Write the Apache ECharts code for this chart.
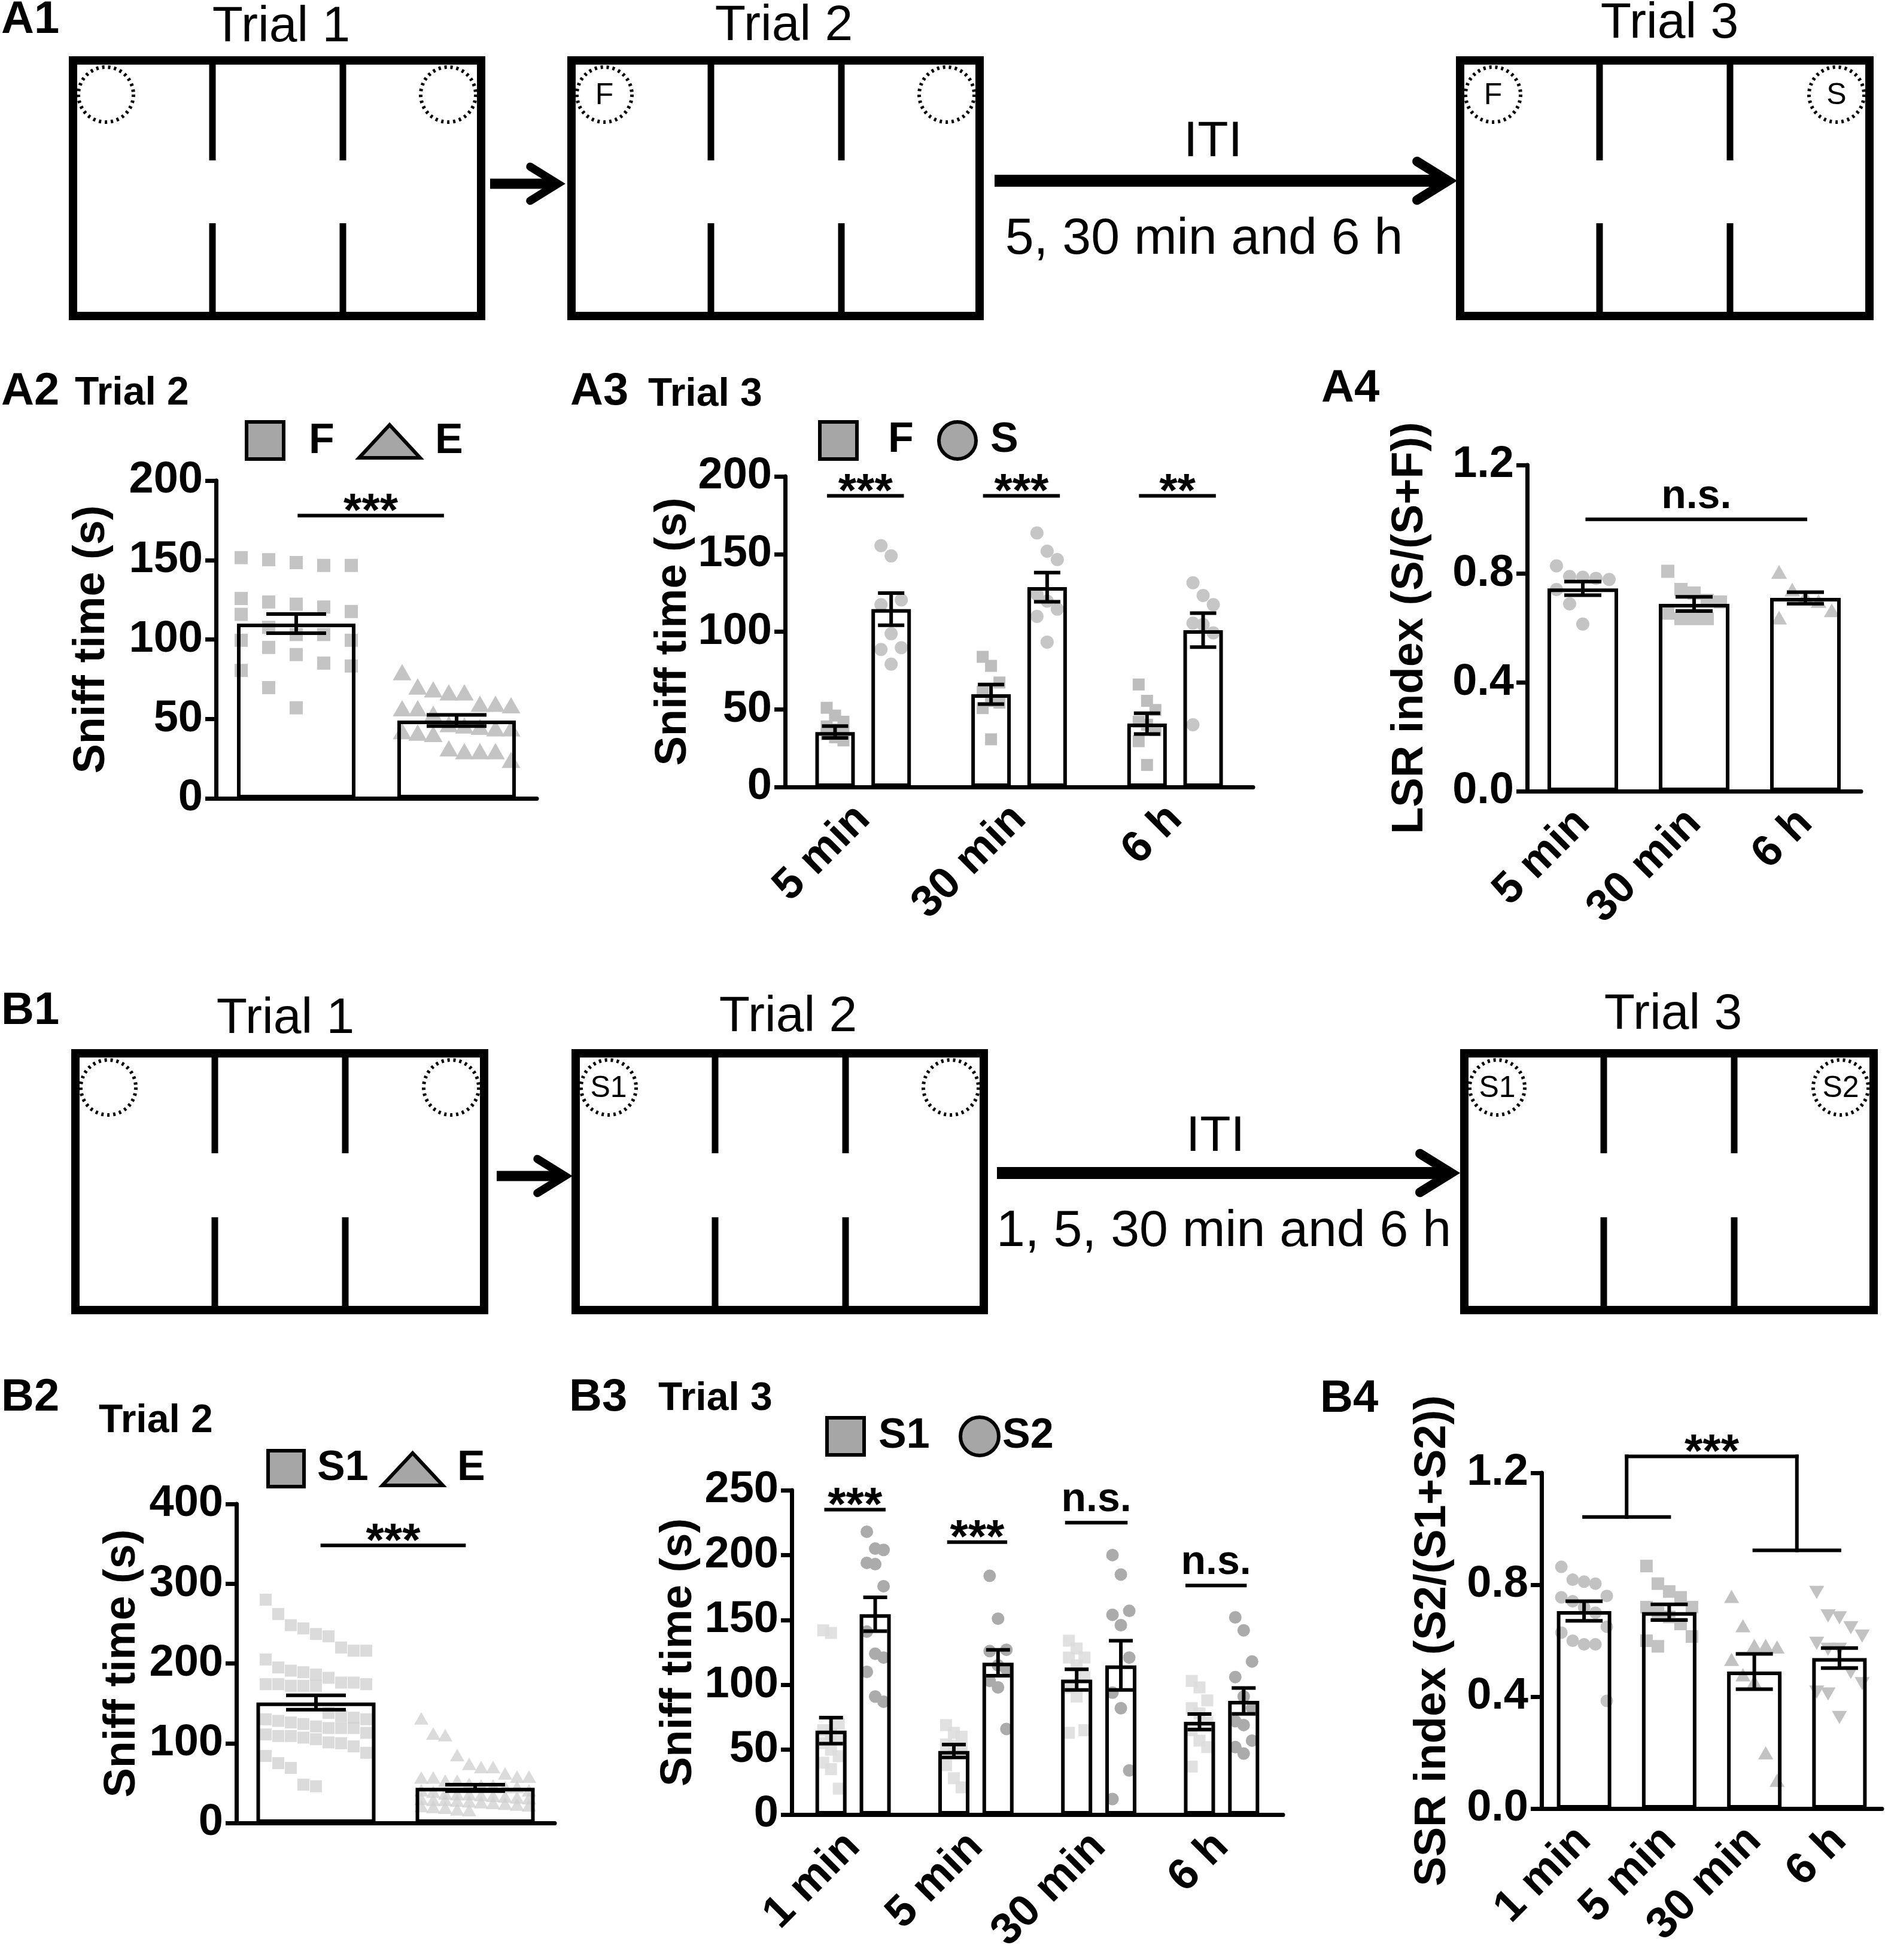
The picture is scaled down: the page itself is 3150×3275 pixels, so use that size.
<!DOCTYPE html>
<html>
<head>
<meta charset="utf-8" />
<title>Spatial recognition: Trial 2 / Trial 3</title>
<script src="https://cdn.jsdelivr.net/npm/echarts@6/dist/echarts.min.js"></script>
<style>
  html, body { margin: 0; padding: 0; background: #fff; }
  #main { width: 3150px; height: 3275px; }
</style>
</head>
<body>
<div id="main"></div>
<script>
// ---------------- data ----------------
var catTimeA = ['5 min', '30 min', '6 h'];
var catTimeB = ['1 min', '5 min', '30 min', '6 h'];

// A2 Trial 2 (F vs E)
var a2Cats = ['F', 'E'];
var a2Ticks = [0, 50, 100, 150, 200];
var a2Mean = [110, 49];
var a2Sem = [6, 3.5];
var a2F = [151.5, 150.2, 148.4, 146.6, 146.6, 125.8, 123.6, 122.2, 120.4, 117.6, 115.8, 107.6, 103.1, 103.1, 99.5, 99.5, 95, 90.5, 85.1, 83.3, 80.5, 69.7, 57];
var a2E = [78.7, 69.7, 67.9, 66, 66, 58.8, 58.8, 57.9, 56, 56, 52.5, 46, 45.2, 44.3, 43.4, 43.4, 41.6, 40.7, 39.8, 30.8, 29, 29, 29, 23.5];
var a2Sig = [[0.02, 0.91, 178, '***']];

// A3 Trial 3 (F vs S)
var a3Ticks = [0, 50, 100, 150, 200];
var a3FMean = [35.4, 59.7, 40.8];
var a3FSem = [3.8, 6.3, 6.7];
var a3SMean = [114.5, 128.7, 101.0];
var a3SSem = [10.4, 9.4, 10.9];
var a3F = [[51, 46, 42, 39, 37, 35, 34, 32, 30], [83.8, 78, 67.3, 61.4, 55.5, 54.3, 50.8, 30.7], [66, 55.5, 49.6, 42, 40.1, 36.6, 29.5, 14.2]];
var a3S = [[155.4, 148.8, 120.4, 117.4, 98.7, 89.7, 88.5, 79.1], [163.6, 151.8, 146.4, 124, 119.7, 114.5, 109.8, 93.3], [131.5, 123.3, 117.4, 105.5, 104.6, 99.2, 40.1]];
var a3Sig = [[-0.22, 0.25, 187.5, '***'], [0.78, 1.25, 187.5, '***'], [1.78, 2.25, 187.5, '**']];

// A4 LSR index
var a4Ticks = [0, 0.4, 0.8, 1.2];
var a4Mean = [0.746, 0.689, 0.711];
var a4Sem = [0.025, 0.026, 0.021];
var a4Pts = [[0.829, 0.79, 0.787, 0.783, 0.779, 0.742, 0.689, 0.615], [0.809, 0.742, 0.729, 0.702, 0.696, 0.655, 0.635, 0.635, 0.635], [0.803, 0.738, 0.712, 0.696, 0.662, 0.635]];
var a4Sig = [[0.04, 2.0, 1.0, 'n.s.']];

// B2 Trial 2 (S1 vs E)
var b2Cats = ['S1', 'E'];
var b2Ticks = [0, 100, 200, 300, 400];
var b2Mean = [151, 44];
var b2Sem = [9, 4];
var b2S1 = [280, 262, 248, 244, 237, 234, 220, 216, 216, 205, 195, 191, 189, 186, 182, 176, 176, 174, 174, 174, 172, 172, 172, 138, 134, 132, 130, 130, 128, 126, 124, 121, 119, 119, 119, 113, 111, 109, 109, 107, 105, 101, 100, 96, 88, 84, 75, 69, 48, 46];
var b2E = [130, 111, 109, 84, 73, 69, 69, 61, 57, 57, 56, 56, 52, 52, 48, 46, 46, 44, 44, 40, 40, 38, 36, 35, 35, 34, 33, 32, 31, 30, 29, 28, 28, 27, 26, 25, 24, 23, 22, 21, 20, 19, 18, 16, 15];
var b2Sig = [[0.04, 0.93, 348, '***']];

// B3 Trial 3 (S1 vs S2)
var b3Ticks = [0, 50, 100, 150, 200, 250];
var b3S1Mean = [64.7, 49, 104, 71.5];
var b3S1Sem = [10, 5, 8, 6];
var b3S2Mean = [154.4, 117, 115, 87.6];
var b3S2Sem = [13, 10, 19, 10];
var b3S1 = [[142, 140, 70, 65, 62, 60, 55, 50, 45, 40, 35, 20], [69, 63, 60, 54, 53, 51, 38, 28, 21], [134, 128, 121, 121, 115, 106, 98, 91, 65, 63], [103, 98, 88, 82, 78, 71, 65, 57, 52, 37]];
var b3S2 = [[218, 205, 204, 194, 193, 176, 141, 124, 121, 110, 91, 87], [184, 151, 127, 126, 115, 112, 103, 98, 66], [200, 185, 157, 154, 146, 121, 94, 82, 34, 12], [152, 142, 118, 106, 91, 82, 72, 69, 57, 52, 47]];
var b3Sig = [[-0.22, 0.25, 235, '***'], [0.78, 1.24, 210, '***'], [1.74, 2.22, 225, 'n.s.'], [2.72, 3.19, 176.5, 'n.s.']];

// B4 SSR index
var b4Ticks = [0, 0.4, 0.8, 1.2];
var b4Mean = [0.706, 0.702, 0.49, 0.538];
var b4Sem = [0.035, 0.028, 0.063, 0.036];
var b4Pts = [[0.864, 0.818, 0.811, 0.804, 0.76, 0.755, 0.741, 0.72, 0.70, 0.65, 0.629, 0.60, 0.587, 0.587, 0.385], [0.867, 0.804, 0.776, 0.755, 0.72, 0.72, 0.70, 0.685, 0.66, 0.615, 0.60, 0.58], [0.755, 0.65, 0.58, 0.58, 0.574, 0.53, 0.475, 0.45, 0.196, 0.098], [0.776, 0.692, 0.685, 0.65, 0.62, 0.594, 0.573, 0.573, 0.49, 0.45, 0.42, 0.413, 0.329]];
// bracket: 1+5 min vs 30 min+6 h
var b4Bracket = [[0, 1.042, 1, 1.042], [0.5, 1.042, 0.5, 1.259], [0.5, 1.259, 2.5, 1.259], [2.5, 1.259, 2.5, 0.923], [2, 0.923, 3, 0.923]];
var b4BracketText = [[1.5, 1.259, '***']];

// ---------------- chart ----------------
var FONT = '"Liberation Sans", Arial, sans-serif';
var chart = echarts.init(document.getElementById('main'), null, { renderer: 'canvas' });

var grids = [], xAxes = [], yAxes = [], series = [];

function pick(v, i) { return Array.isArray(v) ? v[i] : v; }

function markEl(kind, x, y, s, color, opacity) {
    var style = { fill: color, opacity: opacity };
    if (kind === 'square') return { type: 'rect', shape: { x: x - s / 2, y: y - s / 2, width: s, height: s }, style: style };
    if (kind === 'circle') return { type: 'circle', shape: { cx: x, cy: y, r: s / 2 }, style: style };
    if (kind === 'triangle') return { type: 'polygon', shape: { points: [[x, y - s * 0.6], [x - s * 0.6, y + s * 0.45], [x + s * 0.6, y + s * 0.45]] }, style: style };
    return { type: 'polygon', shape: { points: [[x, y + s * 0.6], [x - s * 0.6, y - s * 0.45], [x + s * 0.6, y - s * 0.45]] }, style: style };
}

function addPanel(p) {
    var k = grids.length;
    grids.push({ left: p.left, top: p.top, width: p.width, height: p.height });
    var cx = xAxes.length;
    xAxes.push({
        type: 'category', gridIndex: k, data: p.cats, boundaryGap: true,
        axisLine: { show: true, onZero: false, lineStyle: { color: '#000', width: 7 } },
        axisTick: { show: false },
        axisLabel: { show: p.showLabels, interval: 0, rotate: 45, margin: 42, fontSize: 74, fontWeight: 'bold', color: '#000', fontFamily: FONT },
        splitLine: { show: false }
    });
    var vx = xAxes.length;
    xAxes.push({ type: 'value', gridIndex: k, min: -0.5, max: p.cats.length - 0.5, show: false });
    var t = p.ticks;
    yAxes.push({
        type: 'value', gridIndex: k, min: t[0], max: t[t.length - 1], interval: t[1] - t[0],
        axisLine: { show: true, onZero: false, lineStyle: { color: '#000', width: 7 } },
        axisTick: { show: true, length: 18, lineStyle: { color: '#000', width: 7 } },
        axisLabel: { margin: 22, fontSize: 74, fontWeight: 'bold', color: '#000', fontFamily: FONT,
            formatter: function (v) { return v.toFixed(p.digits); } },
        splitLine: { show: false },
        name: p.yName, nameLocation: 'middle', nameRotate: 90, nameGap: p.nameGap,
        nameTextStyle: { fontSize: 74, fontWeight: 'bold', color: '#000', fontFamily: FONT }
    });

    var nG = p.groups.length;
    var gapFrac = parseFloat(p.barGap) / 100;
    p.groups.forEach(function (g, gi) {
        var off = (gi - (nG - 1) / 2) * p.barWidth * (1 + gapFrac);
        // individual animals
        var pts = [];
        g.pts.forEach(function (arr, ci) {
            var nc = pick(g.nCol, ci);
            arr.forEach(function (v, j) { pts.push([ci, v, j % nc]); });
        });
        series.push({
            type: 'custom', name: g.name + ' points', xAxisIndex: cx, yAxisIndex: k, z: 2, silent: true, clip: false,
            data: pts,
            renderItem: function (params, api) {
                var ci = api.value(0);
                var c = api.coord([ci, api.value(1)]);
                var nc = pick(g.nCol, ci), st = pick(g.step, ci);
                var x = c[0] + off + (api.value(2) - (nc - 1) / 2) * st;
                return markEl(pick(g.shape, ci), x, c[1], pick(g.size, ci), pick(g.color, ci), g.opacity);
            }
        });
        // bars (mean)
        series.push({
            type: 'bar', name: g.name, xAxisIndex: cx, yAxisIndex: k, z: 4, silent: true,
            data: g.mean, barWidth: p.barWidth, barGap: p.barGap,
            itemStyle: { color: 'rgba(255,255,255,0)', borderColor: '#000', borderWidth: 6 }
        });
        // SEM
        series.push({
            type: 'custom', name: g.name + ' sem', xAxisIndex: cx, yAxisIndex: k, z: 5, silent: true, clip: false,
            data: g.mean.map(function (m, i) { return [i, m, g.sem[i]]; }),
            renderItem: function (params, api) {
                var i = api.value(0), m = api.value(1), s = api.value(2);
                var top = api.coord([i, m + s]), bot = api.coord([i, m - s]);
                var x = top[0] + off, w = p.capW / 2;
                var st = { stroke: '#000', lineWidth: 6 };
                return { type: 'group', children: [
                    { type: 'line', shape: { x1: x, y1: top[1], x2: x, y2: bot[1] }, style: st },
                    { type: 'line', shape: { x1: x - w, y1: top[1], x2: x + w, y2: top[1] }, style: st },
                    { type: 'line', shape: { x1: x - w, y1: bot[1], x2: x + w, y2: bot[1] }, style: st }
                ] };
            }
        });
    });

    // significance lines + labels
    var segs = [], texts = [];
    (p.sig || []).forEach(function (s) {
        segs.push([s[0], s[2], s[1], s[2]]);
        texts.push([(s[0] + s[1]) / 2, s[2], s[3]]);
    });
    (p.segs || []).forEach(function (s) { segs.push(s); });
    (p.texts || []).forEach(function (s) { texts.push(s); });
    series.push({
        type: 'custom', name: 'sig lines', xAxisIndex: vx, yAxisIndex: k, z: 6, silent: true, clip: false,
        data: segs,
        renderItem: function (params, api) {
            var a = api.coord([api.value(0), api.value(1)]);
            var b = api.coord([api.value(2), api.value(3)]);
            return { type: 'line', shape: { x1: a[0], y1: a[1], x2: b[0], y2: b[1] },
                style: { stroke: '#000', lineWidth: 6, lineCap: 'square' } };
        }
    });
    series.push({
        type: 'custom', name: 'sig text', xAxisIndex: vx, yAxisIndex: k, z: 6, silent: true, clip: false,
        data: texts.map(function (s) { return [s[0], s[1]]; }),
        renderItem: function (params, api) {
            var a = api.coord([api.value(0), api.value(1)]);
            var label = texts[params.dataIndex][2];
            var star = label.indexOf('*') >= 0;
            return { type: 'text', x: a[0], y: a[1] - 4,
                style: { text: label, font: 'bold ' + (star ? 78 : 68) + 'px ' + FONT, fill: '#000',
                    align: 'center', verticalAlign: star ? 'middle' : 'bottom',
                    textAlign: 'center', textVerticalAlign: star ? 'middle' : 'bottom' } };
        }
    });
}

addPanel({
    left: 361, top: 803, width: 536, height: 531, cats: a2Cats, showLabels: false,
    ticks: a2Ticks, digits: 0, yName: 'Sniff time (s)', nameGap: 170,
    barWidth: 198, barGap: '30%', capW: 100, sig: a2Sig,
    groups: [{ name: 'A2', mean: a2Mean, sem: a2Sem, pts: [a2F, a2E], shape: ['square', 'triangle'],
        color: '#c4c4c4', opacity: 1, size: [22, 26], nCol: [5, 8], step: [46, 26] }]
});
addPanel({
    left: 1312, top: 796, width: 782, height: 519, cats: catTimeA, showLabels: true,
    ticks: a3Ticks, digits: 0, yName: 'Sniff time (s)', nameGap: 149,
    barWidth: 66, barGap: '42%', capW: 44, sig: a3Sig,
    groups: [
        { name: 'A3 F', mean: a3FMean, sem: a3FSem, pts: a3F, shape: 'square', color: '#bdbdbd', opacity: 1, size: 20, nCol: 3, step: 14 },
        { name: 'A3 S', mean: a3SMean, sem: a3SSem, pts: a3S, shape: 'circle', color: '#c6c6c6', opacity: 1, size: 22, nCol: 3, step: 17 }
    ]
});
addPanel({
    left: 2552, top: 777, width: 558, height: 545, cats: catTimeA, showLabels: true,
    ticks: a4Ticks, digits: 1, yName: 'LSR index (S/(S+F))', nameGap: 158,
    barWidth: 118, barGap: '30%', capW: 62, sig: a4Sig,
    groups: [{ name: 'A4', mean: a4Mean, sem: a4Sem, pts: a4Pts, shape: ['circle', 'square', 'triangle'],
        color: '#c4c4c4', opacity: 1, size: 22, nCol: 5, step: 22 }]
});
addPanel({
    left: 395, top: 2513, width: 532, height: 533, cats: b2Cats, showLabels: false,
    ticks: b2Ticks, digits: 0, yName: 'Sniff time (s)', nameGap: 153,
    barWidth: 199, barGap: '30%', capW: 100, sig: b2Sig,
    groups: [{ name: 'B2', mean: b2Mean, sem: b2Sem, pts: [b2S1, b2E], shape: ['square', 'triangle'],
        color: '#cfcfcf', opacity: 0.75, size: 20, nCol: [9, 10], step: [21, 20] }]
});
addPanel({
    left: 1323, top: 2490, width: 821, height: 542, cats: catTimeB, showLabels: true,
    ticks: b3Ticks, digits: 0, yName: 'Sniff time (s)', nameGap: 151,
    barWidth: 52, barGap: '42%', capW: 40, sig: b3Sig,
    groups: [
        { name: 'B3 S1', mean: b3S1Mean, sem: b3S1Sem, pts: b3S1, shape: 'square', color: '#dcdcdc', opacity: 0.85, size: 20, nCol: 3, step: 13 },
        { name: 'B3 S2', mean: b3S2Mean, sem: b3S2Sem, pts: b3S2, shape: 'circle', color: '#ababab', opacity: 1, size: 21, nCol: 3, step: 14 }
    ]
});
addPanel({
    left: 2576, top: 2461, width: 569, height: 561, cats: catTimeB, showLabels: true,
    ticks: b4Ticks, digits: 1, yName: 'SSR index (S2/(S1+S2))', nameGap: 144,
    barWidth: 91, barGap: '30%', capW: 62, segs: b4Bracket, texts: b4BracketText,
    groups: [{ name: 'B4', mean: b4Mean, sem: b4Sem, pts: b4Pts, shape: ['circle', 'square', 'triangle', 'triangleDown'],
        color: '#c2c2c2', opacity: 1, size: 21, nCol: 5, step: 19 }]
});

// ---------------- schematic + labels ----------------
var G = [];
function txt(s, x, y, size, bold, align) {
    G.push({ type: 'text', x: x, y: y, z: 10,
        style: { text: s, font: (bold ? 'bold ' : '') + size + 'px ' + FONT, fill: '#000',
            align: align || 'center', verticalAlign: 'middle', textAlign: align || 'center', textVerticalAlign: 'middle' } });
}
function ln(x1, y1, x2, y2, w) {
    G.push({ type: 'line', z: 10, shape: { x1: x1, y1: y1, x2: x2, y2: y2 }, style: { stroke: '#000', lineWidth: w } });
}
function arena(x0, y0, x1, y1, leftTag, rightTag) {
    var lw = 14;
    G.push({ type: 'rect', z: 10, shape: { x: x0 + lw / 2, y: y0 + lw / 2, width: x1 - x0 - lw, height: y1 - y0 - lw },
        style: { fill: 'none', stroke: '#000', lineWidth: lw } });
    [240, 458].forEach(function (dx) {
        ln(x0 + dx, y0 + lw, x0 + dx, y0 + 174, 11);
        ln(x0 + dx, y1 - 162, x0 + dx, y1 - lw, 11);
    });
    [[x0 + 62, leftTag], [x1 - 62, rightTag]].forEach(function (c) {
        G.push({ type: 'circle', z: 10, shape: { cx: c[0], cy: y0 + 64, r: 46 },
            style: { fill: 'none', stroke: '#000', lineWidth: 6, lineDash: [4, 6] } });
        if (c[1]) txt(c[1], c[0], y0 + 66, 50, false);
    });
}
function arrow(x1, x2, y, w, head) {
    ln(x1, y, x2 - 10, y, w);
    G.push({ type: 'polyline', z: 10, shape: { points: [[x2 - head, y - head * 0.62], [x2, y], [x2 - head, y + head * 0.62]] },
        style: { stroke: '#000', lineWidth: w * 0.8, fill: 'none', lineCap: 'round', lineJoin: 'miter' } });
}

// row A1
txt('A1', 2, 34, 76, true, 'left');
arena(115, 94, 811, 535, null, null);
arena(948, 94, 1644, 535, 'F', null);
arena(2433, 94, 3131, 535, 'F', 'S');
txt('Trial 1', 470, 46, 84, false);
txt('Trial 2', 1310, 44, 84, false);
txt('Trial 3', 2790, 40, 84, false);
arrow(819, 932, 307, 17, 46);
arrow(1662, 2420, 302, 20, 52);
txt('ITI', 2027, 238, 84, false);
txt('5, 30 min and 6 h', 2012, 400, 86, false);

// row B1
txt('B1', 2, 1690, 76, true, 'left');
arena(119, 1753, 816, 2196, null, null);
arena(955, 1753, 1651, 2196, 'S1', null);
arena(2440, 1753, 3138, 2196, 'S1', 'S2');
txt('Trial 1', 477, 1703, 84, false);
txt('Trial 2', 1317, 1700, 84, false);
txt('Trial 3', 2796, 1696, 84, false);
arrow(830, 944, 1965, 17, 46);
arrow(1666, 2425, 1960, 20, 52);
txt('ITI', 2031, 1900, 84, false);
txt('1, 5, 30 min and 6 h', 2045, 2058, 86, false);

// panel labels
txt('A2', 2, 655, 76, true, 'left');
txt('Trial 2', 125, 658, 66, true, 'left');
txt('A3', 953, 655, 76, true, 'left');
txt('Trial 3', 1083, 660, 66, true, 'left');
txt('A4', 2208, 650, 76, true, 'left');
txt('B2', 2, 2336, 76, true, 'left');
txt('Trial 2', 165, 2375, 66, true, 'left');
txt('B3', 951, 2336, 76, true, 'left');
txt('Trial 3', 1100, 2338, 66, true, 'left');
txt('B4', 2206, 2338, 76, true, 'left');

// legends
var LEG = { fill: '#a6a6a6', stroke: '#000', lineWidth: 6 };
function legSquare(x, y, s) { G.push({ type: 'rect', z: 10, shape: { x: x, y: y, width: s, height: s }, style: LEG }); }
function legCircle(cx, cy, r) { G.push({ type: 'circle', z: 10, shape: { cx: cx, cy: cy, r: r }, style: LEG }); }
function legTri(x0, x1, yTop, yBot) {
    G.push({ type: 'polygon', z: 10, shape: { points: [[(x0 + x1) / 2, yTop], [x0, yBot], [x1, yBot]] }, style: LEG });
}
legSquare(412, 705, 62); txt('F', 516, 738, 70, true, 'left');
legTri(600, 702, 710, 765); txt('E', 727, 738, 70, true, 'left');
legSquare(1370, 705, 62); txt('F', 1484, 736, 70, true, 'left');
legCircle(1600, 736, 31); txt('S', 1655, 736, 70, true, 'left');
legSquare(448, 2424, 60); txt('S1', 530, 2454, 70, true, 'left');
legTri(639, 740, 2428, 2482); txt('E', 764, 2454, 70, true, 'left');
legSquare(1382, 2369, 62); txt('S1', 1468, 2400, 70, true, 'left');
legCircle(1637, 2400, 32); txt('S2', 1675, 2400, 70, true, 'left');

chart.setOption({
    backgroundColor: '#fff',
    animation: false,
    textStyle: { fontFamily: FONT },
    grid: grids,
    xAxis: xAxes,
    yAxis: yAxes,
    series: series,
    graphic: { elements: G }
});

window.addEventListener('resize', function () { chart.resize(); });
</script>
</body>
</html>
